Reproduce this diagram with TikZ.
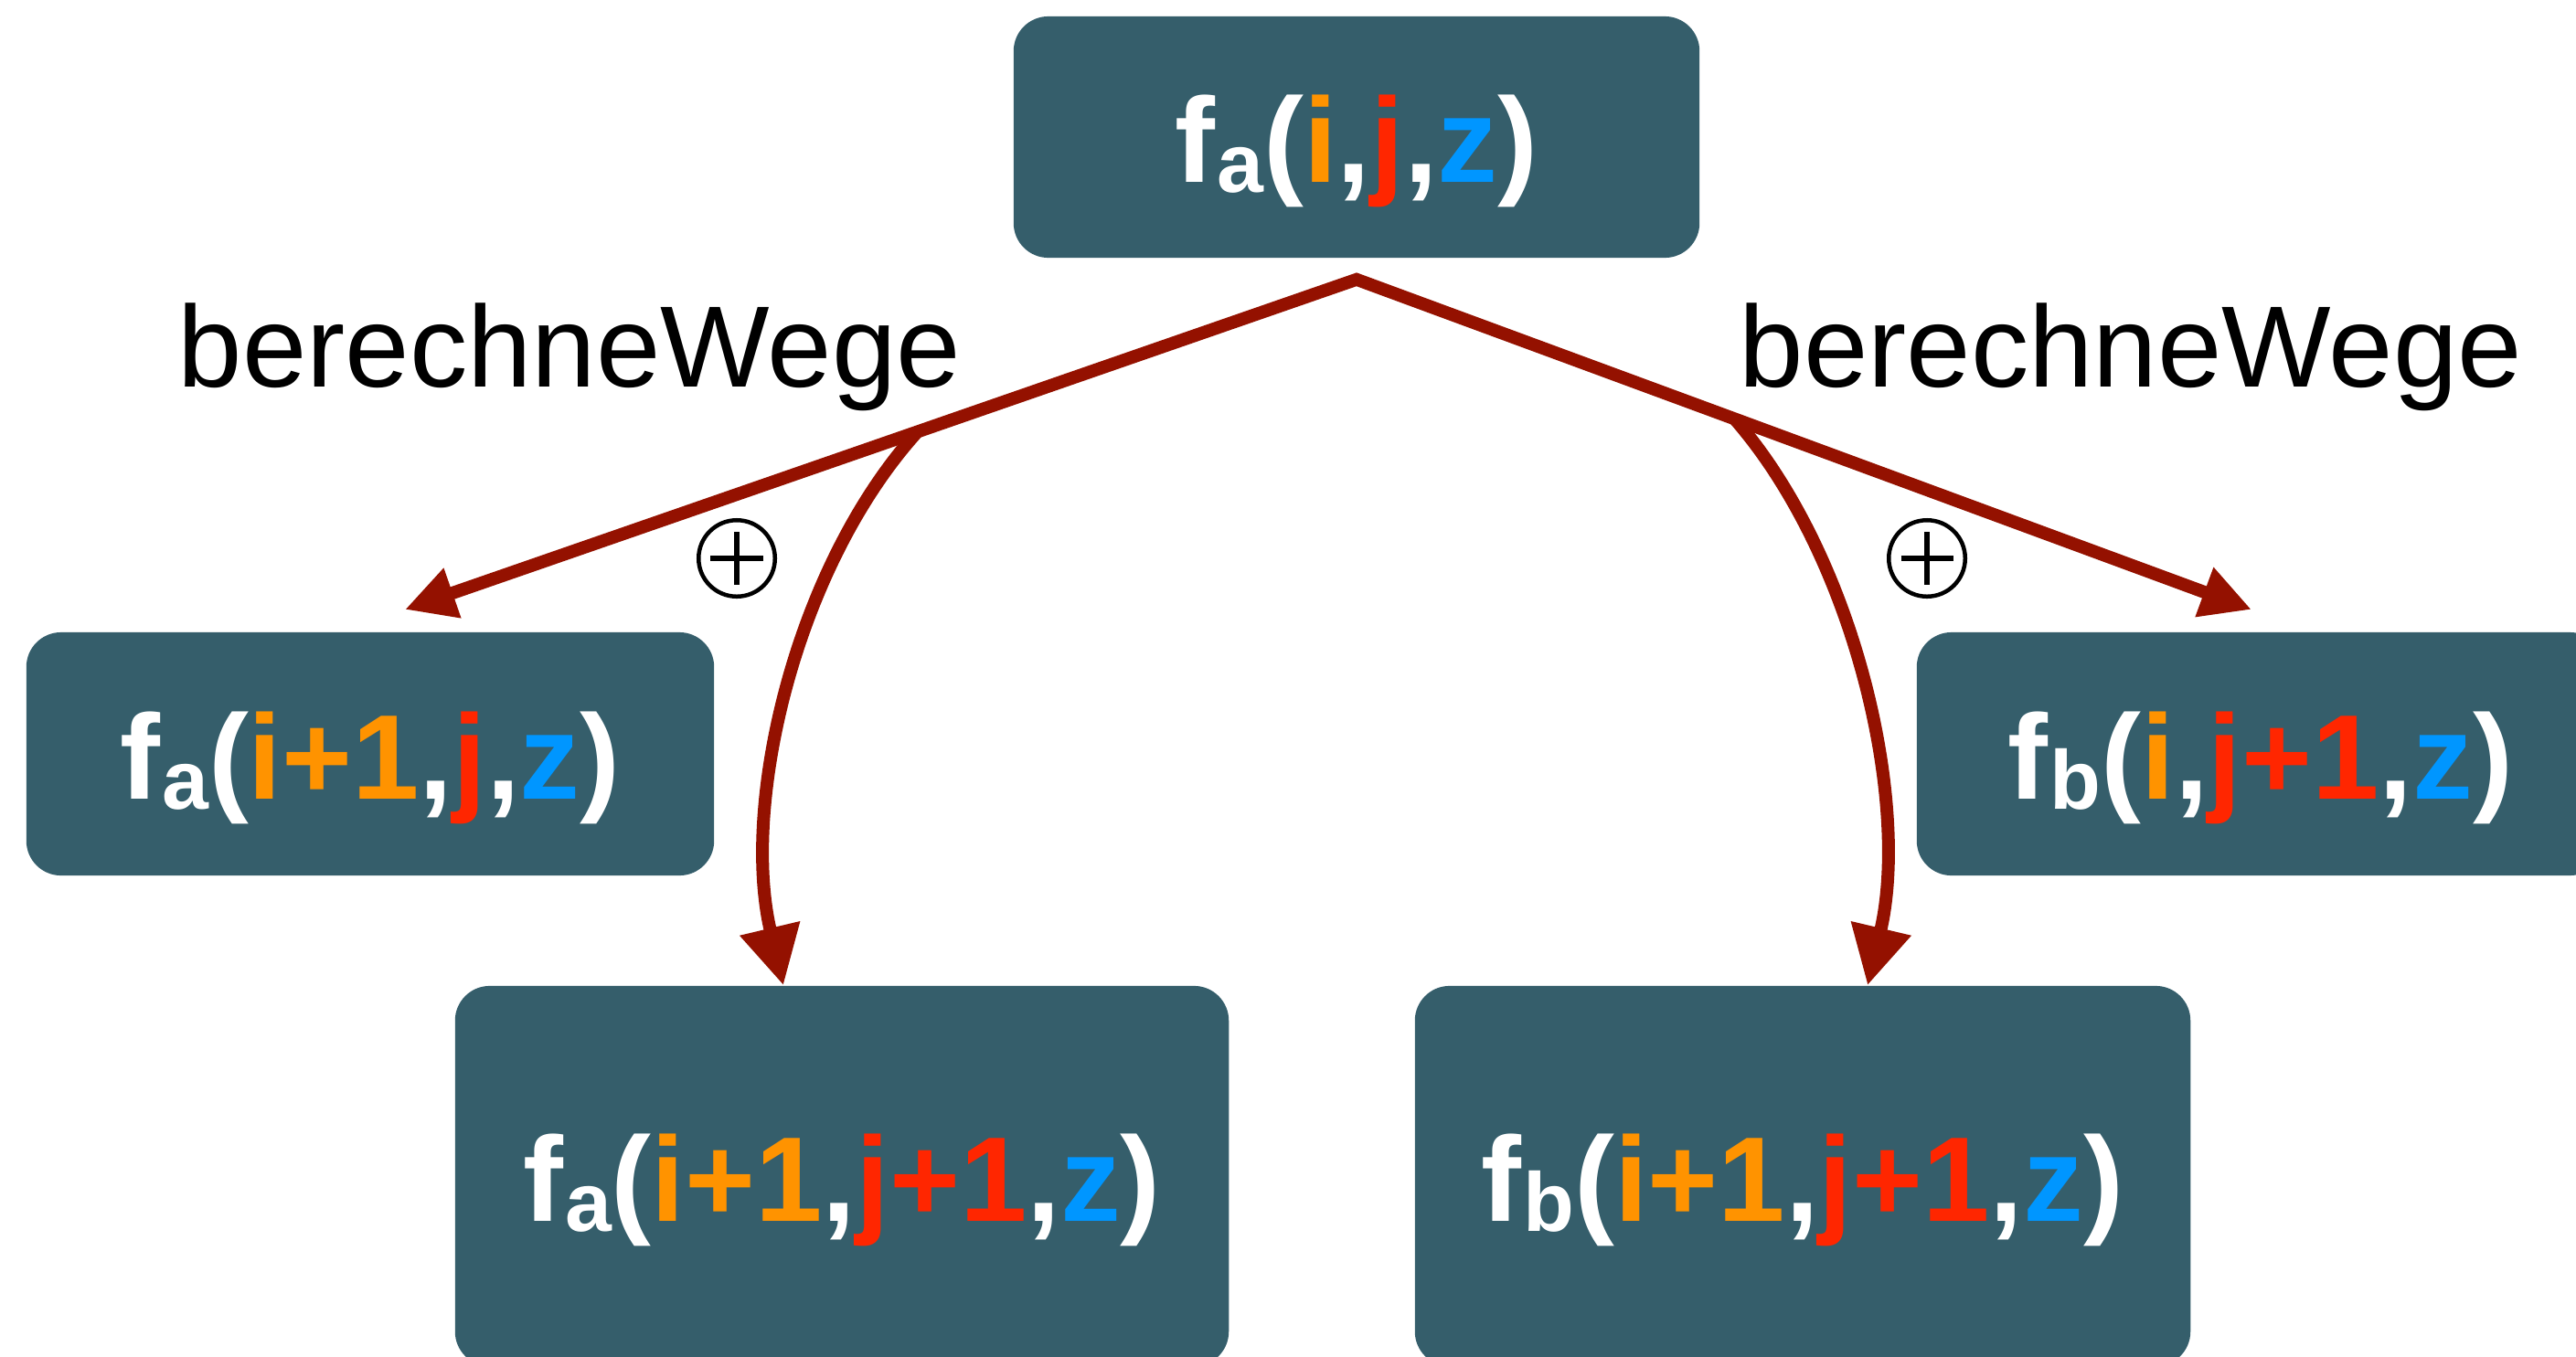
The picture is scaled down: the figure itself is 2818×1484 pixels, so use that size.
\RequirePackage{fix-cm}
\documentclass[tikz,border=0pt]{standalone}
\usepackage{fontspec}
\setmainfont{Liberation Sans}
\usetikzlibrary{arrows.meta,calc}

\definecolor{boxfill}{RGB}{53,94,107}
\definecolor{idxI}{RGB}{255,147,0}
\definecolor{idxJ}{RGB}{255,38,0}
\definecolor{idxZ}{RGB}{0,150,255}
\definecolor{edgered}{RGB}{148,17,0}

% coloured indices and a function name with a lowered subscript
\newcommand\vi[1]{\textcolor{idxI}{#1}}
\newcommand\vj[1]{\textcolor{idxJ}{#1}}
\newcommand\vz[1]{\textcolor{idxZ}{#1}}
\newcommand\fn[1]{f\kern0.02cm\raisebox{-0.11cm}{\fontsize{26}{27}\selectfont #1}}

\begin{document}
\begin{tikzpicture}[x=0.01cm,y=-0.01cm,
  box/.style={rectangle, rounded corners=0.38cm, fill=boxfill, draw=none, inner sep=0pt},
  fx/.style={text=white, font=\fontsize{37.5}{40}\selectfont\bfseries, inner sep=0pt, anchor=base},
  lab/.style={text=black, font=\fontsize{36}{40}\selectfont, inner sep=0pt, anchor=base},
  oplusmark/.style={circle, draw=black, line width=0.045cm, minimum size=0.835cm, inner sep=0pt,
    path picture={
      \draw[line width=0.06cm] ([xshift=-0.285cm]path picture bounding box.center)
                            -- ([xshift=0.285cm]path picture bounding box.center);
      \draw[line width=0.06cm] ([yshift=-0.285cm]path picture bounding box.center)
                            -- ([yshift=0.285cm]path picture bounding box.center);}},
  mainln/.style={draw=edgered, line width=0.14cm,
    {Triangle[length=0.55cm, width=0.54cm]}-{Triangle[length=0.55cm, width=0.54cm]}},
  curveln/.style={draw=edgered, line width=0.14cm,
    -{Triangle[length=0.64cm, width=0.64cm]}}]

\clip (0,0) rectangle (2818,1484);
\useasboundingbox (0,0) rectangle (2818,1484);

% boxes
\node[box, minimum width=7.5cm,  minimum height=2.64cm] (top) at (1484,150) {};
\node[box, minimum width=7.52cm, minimum height=2.66cm] (mL)  at (405,825)  {};
\node[box, minimum width=7.52cm, minimum height=2.66cm] (mR)  at (2473,825) {};
\node[box, minimum width=8.46cm, minimum height=4.16cm] (bL)  at (921,1287) {};
\node[box, minimum width=8.48cm, minimum height=4.16cm] (bR)  at (1972,1287) {};

% box texts
\node[fx] (topT) at ($(top.center)+(0,49)$) {\fn{a}(\vi{i},\vj{j},\vz{z})};
\node[fx] (mLT)  at ($(mL.center)+(0,49)$)  {\fn{a}(\vi{i+1},\vj{j},\vz{z})};
\node[fx] (mRT)  at ($(mR.center)+(0,49)$)  {\fn{b}(\vi{i},\vj{j+1},\vz{z})};
\node[fx] (bLT)  at ($(bL.center)+(0,49)$)  {\fn{a}(\vi{i+1},\vj{j+1},\vz{z})};
\node[fx] (bRT)  at ($(bR.center)+(0,49)$)  {\fn{b}(\vi{i+1},\vj{j+1},\vz{z})};

% labels
\node[lab] (wegeL) at (623,423)  {berechneWege};
\node[lab] (wegeR) at (2331,423) {berechneWege};
\node[oplusmark] (plusL) at (806,611)  {};
\node[oplusmark] (plusR) at (2108,611) {};

% branching connectors
\coordinate (apex) at ($(top.south)+(0,23)$);
\coordinate (tipL) at (443,667);
\coordinate (tipR) at (2463,667);
\draw[mainln] (tipL) -- (apex) -- (tipR);

\coordinate (sL) at ($(apex)!0.4615!(tipL)$);
\coordinate (sR) at ($(apex)!0.4224!(tipR)$);
\draw[curveln] (sL) .. controls (870,620) and (810,880) .. ([xshift=-0.64cm]bL.north);
\draw[curveln] (sR) .. controls (2030,610) and (2090,880) .. ([xshift=0.71cm]bR.north);
\end{tikzpicture}
\end{document}
